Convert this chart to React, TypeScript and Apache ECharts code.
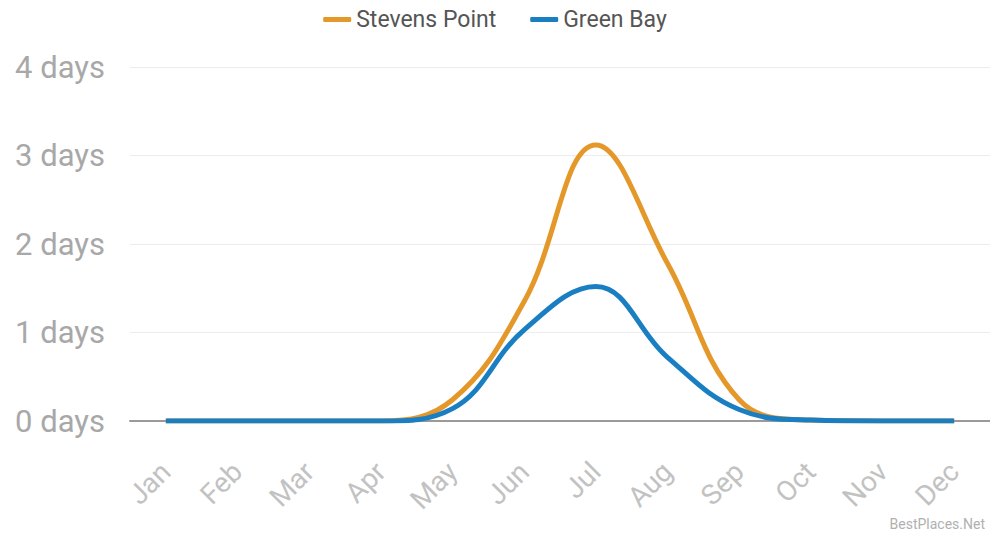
import React, { useEffect, useRef } from "react";
import * as echarts from "echarts";

const months = ["Jan", "Feb", "Mar", "Apr", "May", "Jun", "Jul", "Aug", "Sep", "Oct", "Nov", "Dec"];
const stevensPoint = [0, 0, 0, 0, 0.24, 1.35, 3.12, 1.78, 0.24, 0.01, 0, 0];
const greenBay = [0, 0, 0, 0, 0.14, 1.03, 1.52, 0.72, 0.13, 0.01, 0, 0];
const yTicks = [0, 1, 2, 3, 4];

export default function App() {
  const ref = useRef<HTMLDivElement>(null);
  useEffect(() => {
    if (!ref.current) return;
    const chart = echarts.init(ref.current, undefined, { renderer: "svg" });
    chart.setOption({
      animation: false,
      backgroundColor: "#ffffff",
      textStyle: { fontFamily: "Roboto, Arial, sans-serif" },
      legend: {
        top: 3,
        left: "center",
        itemWidth: 28,
        itemHeight: 5,
        itemGap: 34,
        icon: "roundRect",
        textStyle: { fontSize: 23, color: "#555555", fontFamily: "Roboto, Arial, sans-serif" },
        data: ["Stevens Point", "Green Bay"],
      },
      grid: { left: 130, right: 0, top: 67, bottom: 116, containLabel: false },
      xAxis: {
        type: "category",
        data: months,
        boundaryGap: true,
        axisLine: { show: true, lineStyle: { color: "#9a9a9a", width: 2 } },
        axisTick: { show: false },
        axisLabel: {
          rotate: 45,
          margin: 46,
          fontSize: 28,
          color: "#c2c2c2",
          fontFamily: "Roboto, Arial, sans-serif",
        },
      },
      yAxis: {
        type: "value",
        min: 0,
        max: 4,
        interval: 1,
        axisLine: { show: false },
        axisTick: { show: false },
        splitLine: { lineStyle: { color: "#ececec", width: 1 } },
        axisLabel: {
          margin: 25,
          fontSize: 31,
          color: "#a8a8a8",
          fontFamily: "Roboto, Arial, sans-serif",
          formatter: (v: number) => (yTicks.includes(v) ? `${v} days` : ""),
        },
      },
      series: [
        {
          name: "Stevens Point",
          type: "line",
          data: stevensPoint,
          smooth: 0.4,
          showSymbol: false,
          symbol: "none",
          lineStyle: { color: "#e5982a", width: 5 },
          itemStyle: { color: "#e5982a" },
          z: 2,
        },
        {
          name: "Green Bay",
          type: "line",
          data: greenBay,
          smooth: 0.4,
          showSymbol: false,
          symbol: "none",
          lineStyle: { color: "#1a7fc2", width: 5 },
          itemStyle: { color: "#1a7fc2" },
          z: 3,
        },
      ],
      graphic: [
        {
          type: "text",
          right: 5,
          bottom: 6,
          style: { text: "BestPlaces.Net", fontSize: 14, fill: "#b0b0b0", fontFamily: "Roboto, Arial, sans-serif" },
        },
      ],
    });
    return () => chart.dispose();
  }, []);
  return <div ref={ref} style={{ position: "fixed", left: 0, top: 0, width: 990, height: 537 }} />;
}
